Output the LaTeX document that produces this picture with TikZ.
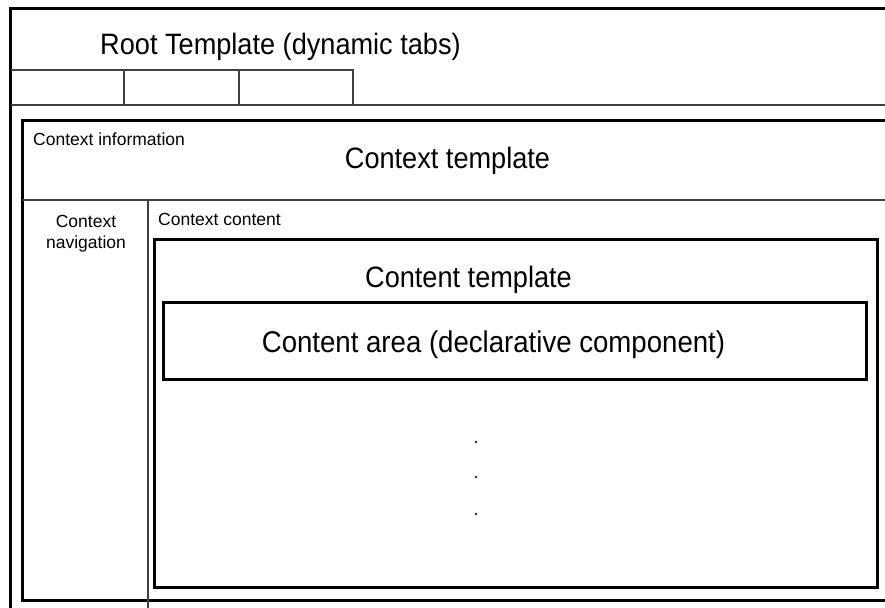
\documentclass[tikz,border=0pt]{standalone}
\usepackage{fontspec}
\setmainfont{Liberation Sans}
\newcommand{\narrowtext}[1]{\scalebox{0.92}[1]{#1}}
\begin{document}
\begin{tikzpicture}[x=1pt,y=-1pt,
  frame/.style={line width=3pt,black},
  rule/.style={line width=1.1pt,black!75},
  big/.style={font=\fontsize{29.5}{34}\selectfont,inner sep=0pt,anchor=base},
  small/.style={font=\fontsize{17.5}{21}\selectfont,inner sep=0pt},
  ellipsisdot/.style={circle,fill=black!85,inner sep=0pt,minimum size=2.6pt}]
\clip (0,0) rectangle (885,607);
% root template and its tabs
\draw[frame] (10.5,8.5) rectangle (900,620);
\draw[rule] (10.5,70) -- (353,70) -- (353,105);
\foreach \x in {124,239}
  \draw[rule] (\x,70) -- (\x,105);
\draw[rule] (10.5,105) -- (890,105);
\node[big] (root) at (280.5,55) {\narrowtext{Root Template (dynamic tabs)}};
% context template
\draw[frame] (22,120) rectangle (900,600);
\draw[rule] (22,200) -- (890,200);
\draw[rule] (148,200) -- (148,610);
\node[small,anchor=base west] (ctxinfo) at (33,145) {Context information};
\node[big] (ctxtpl) at (447.5,168) {\narrowtext{Context template}};
\node[small,anchor=base] (ctxnav) at (86,227) {Context};
\node[small,anchor=base] (ctxnav2) at (86,248) {navigation};
\node[small,anchor=base west] (ctxcont) at (158,225) {Context content};
% content template
\draw[frame] (154,239) rectangle (877.5,587);
\node[big] (conttpl) at (468.5,287) {\narrowtext{Content template}};
\draw[frame] (163,302) rectangle (866,379);
\node[big,font=\fontsize{30}{34}\selectfont] (contarea) at (493.5,352) {\narrowtext{Content area (declarative component)}};
\foreach \y/\n in {442/a,477/b,514/c}
  \node[ellipsisdot] (dot\n) at (476,\y) {};
\end{tikzpicture}
\end{document}
